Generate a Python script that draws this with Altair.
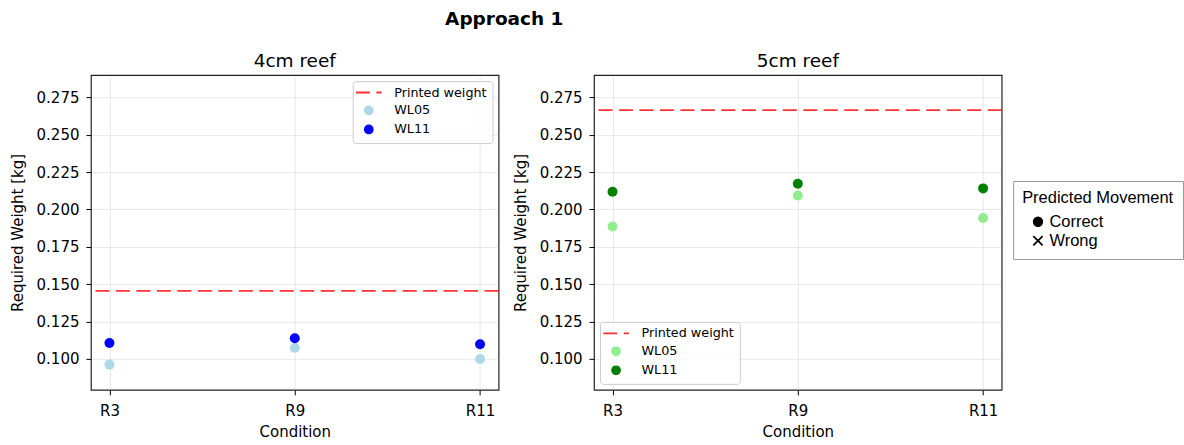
import altair as alt
import pandas as pd

# ---- data ----
conditions = ["R3", "R9", "R11"]
wl05_4cm = [0.0962, 0.1074, 0.1000]
wl11_4cm = [0.1107, 0.1138, 0.1098]
wl05_5cm = [0.1886, 0.2094, 0.1943]
wl11_5cm = [0.2119, 0.2172, 0.2141]
printed_4cm = 0.1455
printed_5cm = 0.2665
movement_4cm = ["Correct"] * 6
movement_5cm = ["Correct"] * 6
y_ticks = [0.100, 0.125, 0.150, 0.175, 0.200, 0.225, 0.250, 0.275]
y_domain = [0.0793, 0.2899]

FONT = "DejaVu Sans"
LEG_FONT = "Liberation Sans"
PW = "Printed weight"
DASH_PATH = "M-2.63,0H0.24M1.57,0H2.63"
CROSS_PATH = "M-0.9,-0.9L0.9,0.9M-0.9,0.9L0.9,-0.9"


def panel(title, wl05, wl11, printed, movement, c05, c11, orient):
    df = pd.DataFrame({
        "Condition": conditions + conditions,
        "weight": wl05 + wl11,
        "series": ["WL05"] * 3 + ["WL11"] * 3,
        "movement": movement,
    })
    x = alt.X("Condition:N", sort=conditions,
              scale=alt.Scale(type="point", padding=0.1),
              axis=alt.Axis(title="Condition", labelAngle=0, grid=True))
    y = alt.Y("weight:Q",
              scale=alt.Scale(domain=y_domain, nice=False, zero=False),
              axis=alt.Axis(title="Required Weight [kg]", values=y_ticks,
                            format=".3f", grid=True))
    rule = alt.Chart(pd.DataFrame({"weight": [printed]})).mark_rule(
        color="red", strokeDash=[14, 6.5], strokeWidth=1.8, opacity=0.8
    ).encode(y=y)
    points = alt.Chart(df).mark_point(filled=True, size=100, opacity=1).encode(
        x=x,
        y=y,
        color=alt.Color(
            "series:N",
            scale=alt.Scale(domain=[PW, "WL05", "WL11"], range=["red", c05, c11]),
            legend=alt.Legend(
                title=None, orient=orient, offset=6, padding=5,
                symbolOffset=4.7, labelOffset=19, rowPadding=1,
                labelFont=FONT, labelFontSize=12.8, labelColor="black",
                symbolSize=95, strokeColor="#cccccc",
                fillColor="rgba(255,255,255,0.8)", cornerRadius=3,
                symbolType=alt.ExprRef(expr=f"datum.value === '{PW}' ? '{DASH_PATH}' : 'circle'"),
                symbolStrokeColor=alt.ExprRef(expr=f"datum.value === '{PW}' ? '#ff3030' : 'transparent'"),
                symbolStrokeWidth=1.8, symbolOpacity=1,
            ),
        ),
        shape=alt.Shape(
            "movement:N",
            scale=alt.Scale(domain=["Correct", "Wrong"], range=["circle", CROSS_PATH]),
            legend=alt.Legend(
                title="Predicted Movement", orient="none", legendX=923, legendY=106,
                titleFont=LEG_FONT, titleFontSize=16.5, titleFontWeight="normal",
                titleColor="black", titlePadding=7,
                labelFont=LEG_FONT, labelFontSize=16.5, labelColor="black",
                symbolSize=107, padding=9, symbolOffset=7.6, labelOffset=3.2,
                rowPadding=0.1, strokeColor="#999999", fillColor="white",
                cornerRadius=0,
                symbolFillColor=alt.ExprRef(expr="datum.value === 'Correct' ? 'black' : 'transparent'"),
                symbolStrokeColor=alt.ExprRef(expr="datum.value === 'Correct' ? 'transparent' : 'black'"),
                symbolStrokeWidth=1.8, symbolOpacity=1,
            ),
        ),
    )
    return alt.layer(rule, points).properties(
        width=408, height=315,
        title=alt.TitleParams(title, font=FONT, fontSize=18.5, fontWeight="normal",
                              color="black", offset=5),
    )


left = panel("4cm reef", wl05_4cm, wl11_4cm, printed_4cm, movement_4cm,
             "lightblue", "blue", "top-right")
right = panel("5cm reef", wl05_5cm, wl11_5cm, printed_5cm, movement_5cm,
              "lightgreen", "green", "bottom-left")

chart = alt.hconcat(left, right, spacing=11.5).resolve_scale(
    color="independent", shape="shared"
).resolve_legend(
    color="independent", shape="shared"
).properties(
    title=alt.TitleParams("Approach 1", font=FONT, fontSize=18.5, fontWeight="bold",
                          color="black", anchor="start", dx=436, dy=-13,
                          offset=10),
    padding={"left": 9, "top": 9, "right": 0, "bottom": 0},
    background="white",
).configure_view(
    stroke="#222222", strokeWidth=1.2
).configure_axis(
    labelFont=FONT, labelFontSize=15, labelColor="black",
    titleFont=FONT, titleFontSize=15, titleFontWeight="normal", titleColor="black",
    tickColor="black", tickSize=5, tickWidth=1, domain=False,
    gridColor="#b0b0b0", gridOpacity=0.35, gridWidth=0.8,
).configure_axisX(
    labelPadding=8.5, titlePadding=6.5,
).configure_axisY(
    labelPadding=7, titlePadding=11,
)

chart.save("out.html", embed_options={"renderer": "svg", "actions": False})
